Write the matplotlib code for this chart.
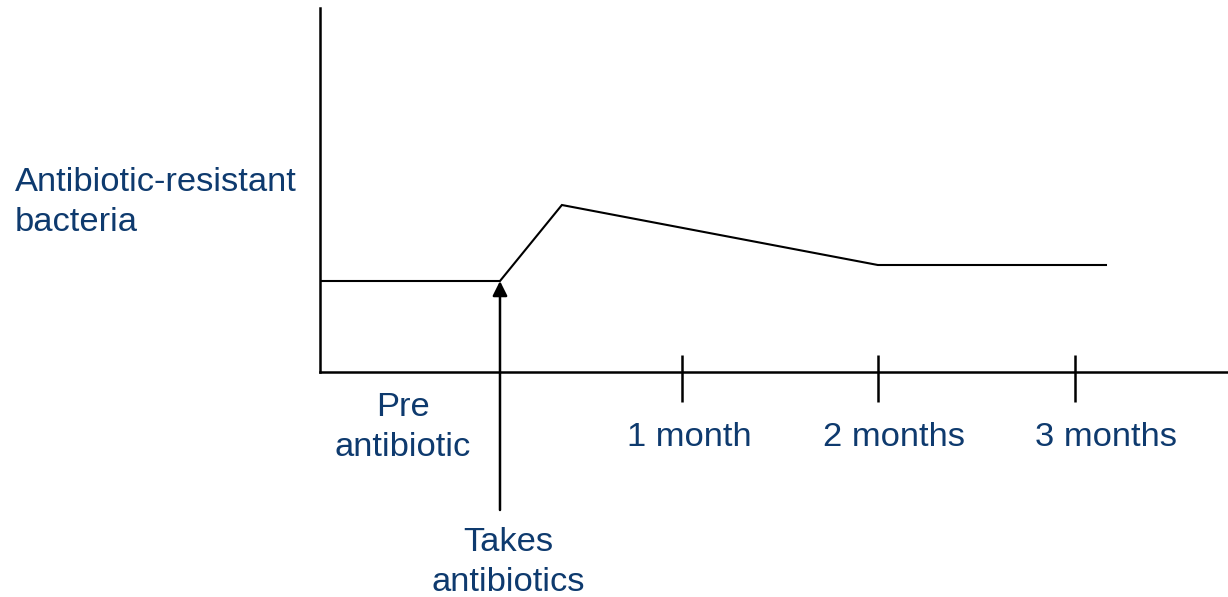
import matplotlib.pyplot as plt

# x in months, y in arbitrary units of resistant bacteria
line_x = [-0.842, 0.074, 0.389, 1.997, 3.158]
line_y = [0.91, 0.91, 1.67, 1.07, 1.07]
tick_x = [1, 2, 3]
tick_labels = ['1 month', '2 months', '3 months']
label_x = [1.036, 2.081, 3.158]
dose_x = 0.074

blue = '#0e3a6e'
font = 'Liberation Sans'
fs = 24.8
ls = 1.39

fig = plt.figure(figsize=(12.28, 5.97), dpi=100)
ax = fig.add_axes([320 / 1228, 225 / 597, 908 / 1228, 364 / 597])
ax.set_xlim(-0.842, 3.779)
ax.set_ylim(0, 3.64)

ax.plot(line_x, line_y, color='black', lw=1.5, solid_joinstyle='miter')

for s in ['top', 'right']:
    ax.spines[s].set_visible(False)
for s in ['left', 'bottom']:
    ax.spines[s].set_linewidth(1.8)
ax.set_xticks([])
ax.set_yticks([])

# ticks crossing the x axis
ax.vlines(tick_x, -0.30, 0.17, color='black', lw=1.8, clip_on=False)
for x, lab in zip(label_x, tick_labels):
    ax.text(x, -0.65, lab, ha='center', va='center', color=blue,
            fontsize=fs, family=font, clip_on=False)

# arrow for the antibiotic dose
ax.annotate('', xy=(dose_x, line_y[1]), xytext=(dose_x, -1.38),
            arrowprops=dict(arrowstyle='-|>', color='black', lw=1.8,
                            mutation_scale=22, shrinkA=0, shrinkB=0),
            annotation_clip=False)
ax.text(dose_x + 0.04, -1.905, 'Takes\nantibiotics', ha='center', va='center',
        color=blue, fontsize=fs, family=font, linespacing=ls)
ax.text(-0.42, -0.555, 'Pre\nantibiotic', ha='center', va='center',
        color=blue, fontsize=fs, family=font, linespacing=ls)

fig.text(15 / 1228, 1 - 202.5 / 597, 'Antibiotic-resistant\nbacteria', ha='left',
         va='center', color=blue, fontsize=fs, family=font, linespacing=ls)

fig.savefig('out.png', dpi=100)
